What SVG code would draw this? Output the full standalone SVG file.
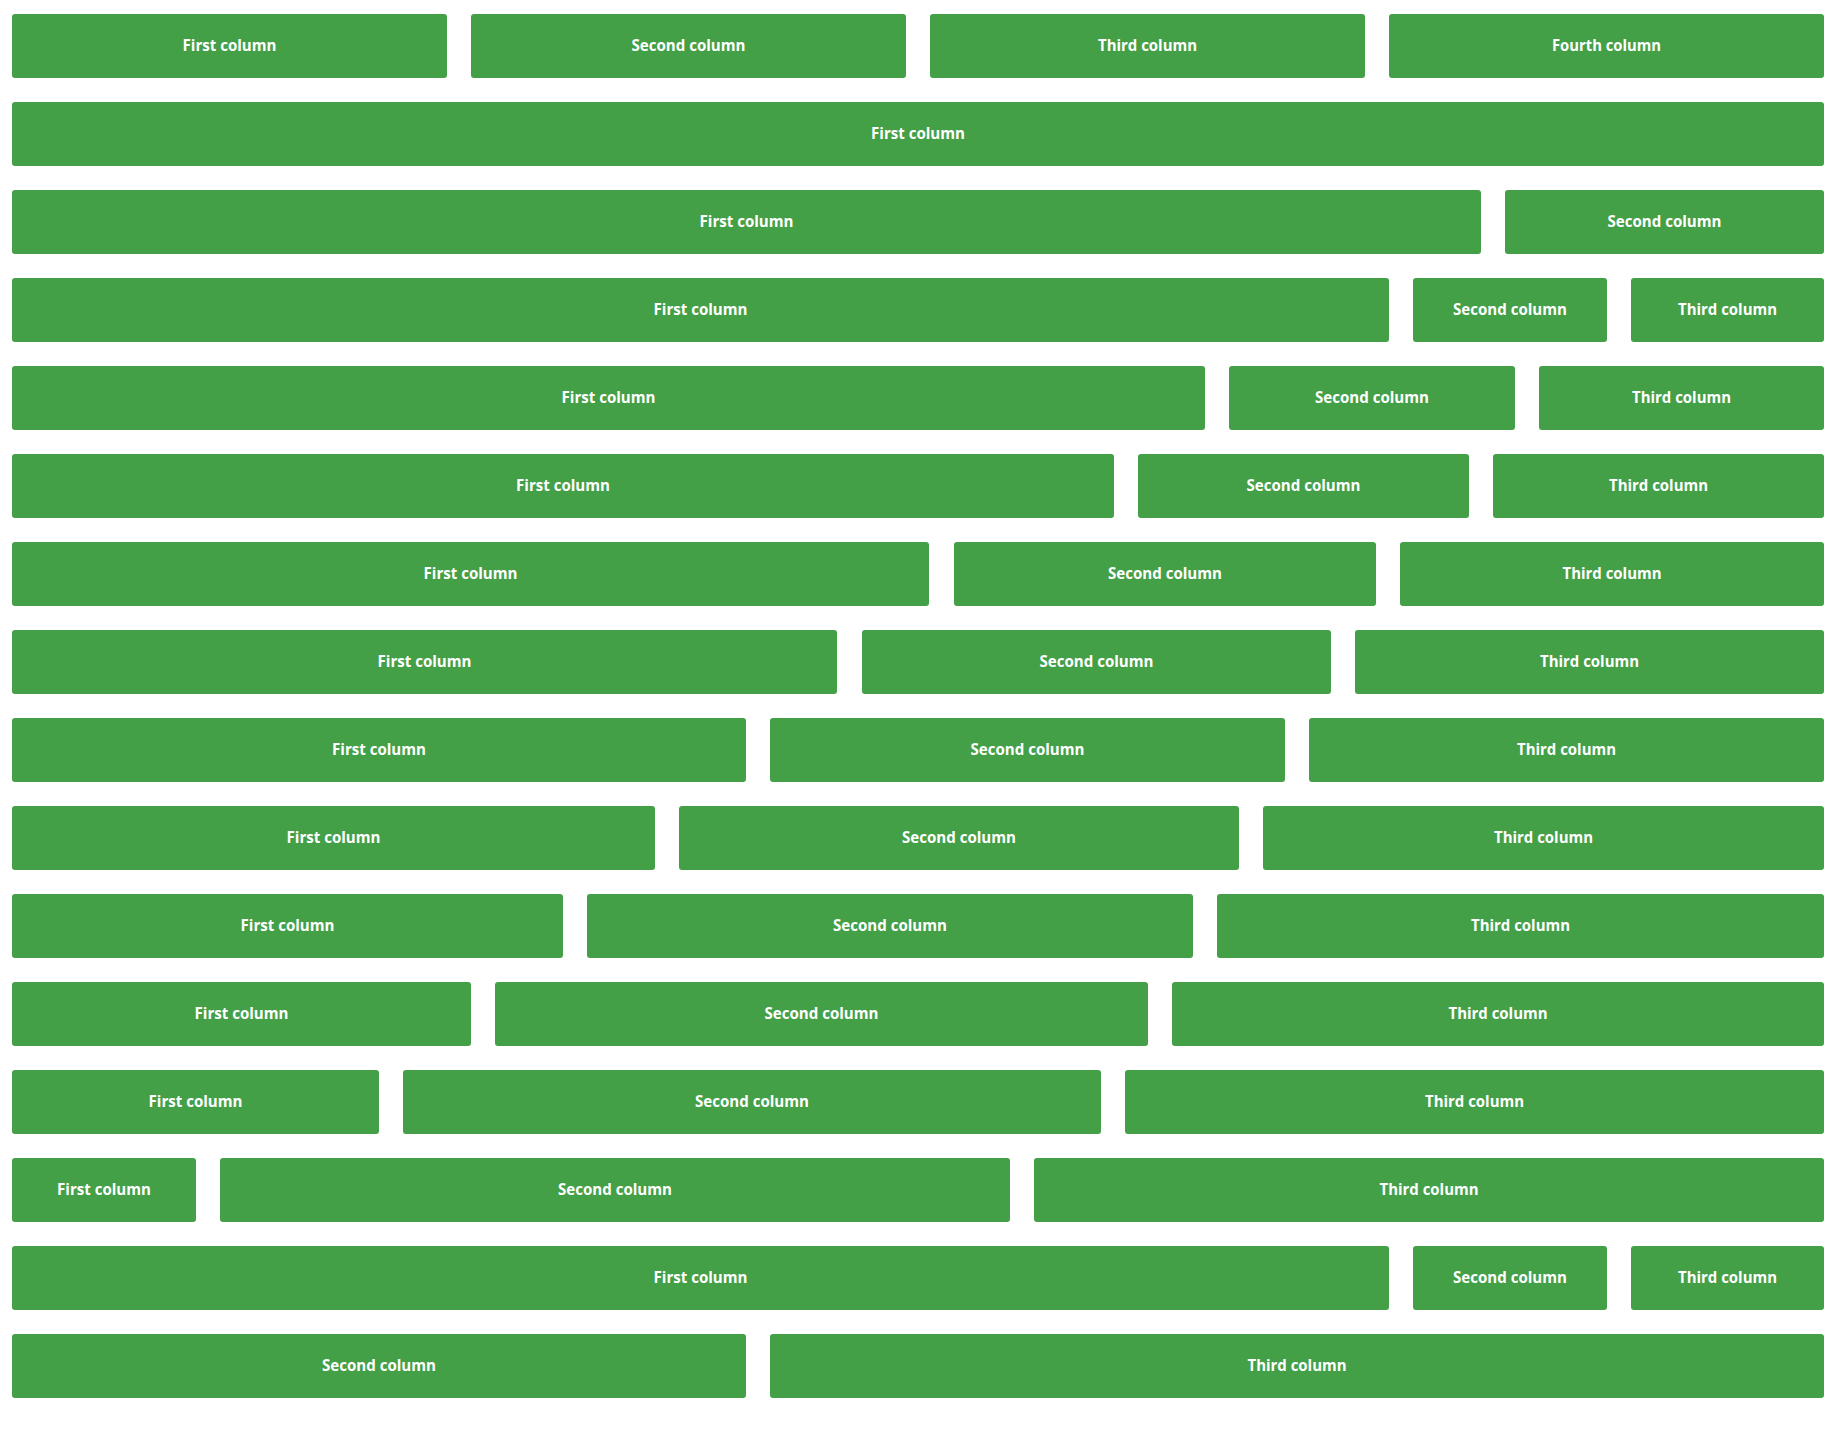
<svg xmlns="http://www.w3.org/2000/svg" width="1836" height="1432" viewBox="0 0 1836 1432">
<style>
.b{fill:#43A047}
.t{fill:#fff;font-family:"Open Sans","Noto Sans","Liberation Sans",sans-serif;font-weight:700;font-size:16px;text-anchor:middle}
</style>
<rect width="1836" height="1432" fill="#fff"/>
<g id="row1">
<g id="r1c1"><rect class="b" x="12" y="14" width="435" height="64" rx="3"/><text class="t" x="229.5" y="51" textLength="94" lengthAdjust="spacingAndGlyphs">First column</text></g>
<g id="r1c2"><rect class="b" x="471" y="14" width="435" height="64" rx="3"/><text class="t" x="688.5" y="51" textLength="114" lengthAdjust="spacingAndGlyphs">Second column</text></g>
<g id="r1c3"><rect class="b" x="930" y="14" width="435" height="64" rx="3"/><text class="t" x="1147.5" y="51" textLength="99" lengthAdjust="spacingAndGlyphs">Third column</text></g>
<g id="r1c4"><rect class="b" x="1389" y="14" width="435" height="64" rx="3"/><text class="t" x="1606.5" y="51" textLength="109" lengthAdjust="spacingAndGlyphs">Fourth column</text></g>
</g>
<g id="row2">
<g id="r2c1"><rect class="b" x="12" y="102" width="1812" height="64" rx="3"/><text class="t" x="918" y="139" textLength="94" lengthAdjust="spacingAndGlyphs">First column</text></g>
</g>
<g id="row3">
<g id="r3c1"><rect class="b" x="12" y="190" width="1469" height="64" rx="3"/><text class="t" x="746.5" y="227" textLength="94" lengthAdjust="spacingAndGlyphs">First column</text></g>
<g id="r3c2"><rect class="b" x="1505" y="190" width="319" height="64" rx="3"/><text class="t" x="1664.5" y="227" textLength="114" lengthAdjust="spacingAndGlyphs">Second column</text></g>
</g>
<g id="row4">
<g id="r4c1"><rect class="b" x="12" y="278" width="1377" height="64" rx="3"/><text class="t" x="700.5" y="315" textLength="94" lengthAdjust="spacingAndGlyphs">First column</text></g>
<g id="r4c2"><rect class="b" x="1413" y="278" width="194" height="64" rx="3"/><text class="t" x="1510" y="315" textLength="114" lengthAdjust="spacingAndGlyphs">Second column</text></g>
<g id="r4c3"><rect class="b" x="1631" y="278" width="193" height="64" rx="3"/><text class="t" x="1727.5" y="315" textLength="99" lengthAdjust="spacingAndGlyphs">Third column</text></g>
</g>
<g id="row5">
<g id="r5c1"><rect class="b" x="12" y="366" width="1193" height="64" rx="3"/><text class="t" x="608.5" y="403" textLength="94" lengthAdjust="spacingAndGlyphs">First column</text></g>
<g id="r5c2"><rect class="b" x="1229" y="366" width="286" height="64" rx="3"/><text class="t" x="1372" y="403" textLength="114" lengthAdjust="spacingAndGlyphs">Second column</text></g>
<g id="r5c3"><rect class="b" x="1539" y="366" width="285" height="64" rx="3"/><text class="t" x="1681.5" y="403" textLength="99" lengthAdjust="spacingAndGlyphs">Third column</text></g>
</g>
<g id="row6">
<g id="r6c1"><rect class="b" x="12" y="454" width="1102" height="64" rx="3"/><text class="t" x="563" y="491" textLength="94" lengthAdjust="spacingAndGlyphs">First column</text></g>
<g id="r6c2"><rect class="b" x="1138" y="454" width="331" height="64" rx="3"/><text class="t" x="1303.5" y="491" textLength="114" lengthAdjust="spacingAndGlyphs">Second column</text></g>
<g id="r6c3"><rect class="b" x="1493" y="454" width="331" height="64" rx="3"/><text class="t" x="1658.5" y="491" textLength="99" lengthAdjust="spacingAndGlyphs">Third column</text></g>
</g>
<g id="row7">
<g id="r7c1"><rect class="b" x="12" y="542" width="917" height="64" rx="3"/><text class="t" x="470.5" y="579" textLength="94" lengthAdjust="spacingAndGlyphs">First column</text></g>
<g id="r7c2"><rect class="b" x="954" y="542" width="422" height="64" rx="3"/><text class="t" x="1165" y="579" textLength="114" lengthAdjust="spacingAndGlyphs">Second column</text></g>
<g id="r7c3"><rect class="b" x="1400" y="542" width="424" height="64" rx="3"/><text class="t" x="1612" y="579" textLength="99" lengthAdjust="spacingAndGlyphs">Third column</text></g>
</g>
<g id="row8">
<g id="r8c1"><rect class="b" x="12" y="630" width="825" height="64" rx="3"/><text class="t" x="424.5" y="667" textLength="94" lengthAdjust="spacingAndGlyphs">First column</text></g>
<g id="r8c2"><rect class="b" x="862" y="630" width="469" height="64" rx="3"/><text class="t" x="1096.5" y="667" textLength="114" lengthAdjust="spacingAndGlyphs">Second column</text></g>
<g id="r8c3"><rect class="b" x="1355" y="630" width="469" height="64" rx="3"/><text class="t" x="1589.5" y="667" textLength="99" lengthAdjust="spacingAndGlyphs">Third column</text></g>
</g>
<g id="row9">
<g id="r9c1"><rect class="b" x="12" y="718" width="734" height="64" rx="3"/><text class="t" x="379" y="755" textLength="94" lengthAdjust="spacingAndGlyphs">First column</text></g>
<g id="r9c2"><rect class="b" x="770" y="718" width="515" height="64" rx="3"/><text class="t" x="1027.5" y="755" textLength="114" lengthAdjust="spacingAndGlyphs">Second column</text></g>
<g id="r9c3"><rect class="b" x="1309" y="718" width="515" height="64" rx="3"/><text class="t" x="1566.5" y="755" textLength="99" lengthAdjust="spacingAndGlyphs">Third column</text></g>
</g>
<g id="row10">
<g id="r10c1"><rect class="b" x="12" y="806" width="643" height="64" rx="3"/><text class="t" x="333.5" y="843" textLength="94" lengthAdjust="spacingAndGlyphs">First column</text></g>
<g id="r10c2"><rect class="b" x="679" y="806" width="560" height="64" rx="3"/><text class="t" x="959" y="843" textLength="114" lengthAdjust="spacingAndGlyphs">Second column</text></g>
<g id="r10c3"><rect class="b" x="1263" y="806" width="561" height="64" rx="3"/><text class="t" x="1543.5" y="843" textLength="99" lengthAdjust="spacingAndGlyphs">Third column</text></g>
</g>
<g id="row11">
<g id="r11c1"><rect class="b" x="12" y="894" width="551" height="64" rx="3"/><text class="t" x="287.5" y="931" textLength="94" lengthAdjust="spacingAndGlyphs">First column</text></g>
<g id="r11c2"><rect class="b" x="587" y="894" width="606" height="64" rx="3"/><text class="t" x="890" y="931" textLength="114" lengthAdjust="spacingAndGlyphs">Second column</text></g>
<g id="r11c3"><rect class="b" x="1217" y="894" width="607" height="64" rx="3"/><text class="t" x="1520.5" y="931" textLength="99" lengthAdjust="spacingAndGlyphs">Third column</text></g>
</g>
<g id="row12">
<g id="r12c1"><rect class="b" x="12" y="982" width="459" height="64" rx="3"/><text class="t" x="241.5" y="1019" textLength="94" lengthAdjust="spacingAndGlyphs">First column</text></g>
<g id="r12c2"><rect class="b" x="495" y="982" width="653" height="64" rx="3"/><text class="t" x="821.5" y="1019" textLength="114" lengthAdjust="spacingAndGlyphs">Second column</text></g>
<g id="r12c3"><rect class="b" x="1172" y="982" width="652" height="64" rx="3"/><text class="t" x="1498" y="1019" textLength="99" lengthAdjust="spacingAndGlyphs">Third column</text></g>
</g>
<g id="row13">
<g id="r13c1"><rect class="b" x="12" y="1070" width="367" height="64" rx="3"/><text class="t" x="195.5" y="1107" textLength="94" lengthAdjust="spacingAndGlyphs">First column</text></g>
<g id="r13c2"><rect class="b" x="403" y="1070" width="698" height="64" rx="3"/><text class="t" x="752" y="1107" textLength="114" lengthAdjust="spacingAndGlyphs">Second column</text></g>
<g id="r13c3"><rect class="b" x="1125" y="1070" width="699" height="64" rx="3"/><text class="t" x="1474.5" y="1107" textLength="99" lengthAdjust="spacingAndGlyphs">Third column</text></g>
</g>
<g id="row14">
<g id="r14c1"><rect class="b" x="12" y="1158" width="184" height="64" rx="3"/><text class="t" x="104" y="1195" textLength="94" lengthAdjust="spacingAndGlyphs">First column</text></g>
<g id="r14c2"><rect class="b" x="220" y="1158" width="790" height="64" rx="3"/><text class="t" x="615" y="1195" textLength="114" lengthAdjust="spacingAndGlyphs">Second column</text></g>
<g id="r14c3"><rect class="b" x="1034" y="1158" width="790" height="64" rx="3"/><text class="t" x="1429" y="1195" textLength="99" lengthAdjust="spacingAndGlyphs">Third column</text></g>
</g>
<g id="row15">
<g id="r15c1"><rect class="b" x="12" y="1246" width="1377" height="64" rx="3"/><text class="t" x="700.5" y="1283" textLength="94" lengthAdjust="spacingAndGlyphs">First column</text></g>
<g id="r15c2"><rect class="b" x="1413" y="1246" width="194" height="64" rx="3"/><text class="t" x="1510" y="1283" textLength="114" lengthAdjust="spacingAndGlyphs">Second column</text></g>
<g id="r15c3"><rect class="b" x="1631" y="1246" width="193" height="64" rx="3"/><text class="t" x="1727.5" y="1283" textLength="99" lengthAdjust="spacingAndGlyphs">Third column</text></g>
</g>
<g id="row16">
<g id="r16c2"><rect class="b" x="12" y="1334" width="734" height="64" rx="3"/><text class="t" x="379" y="1371" textLength="114" lengthAdjust="spacingAndGlyphs">Second column</text></g>
<g id="r16c3"><rect class="b" x="770" y="1334" width="1054" height="64" rx="3"/><text class="t" x="1297" y="1371" textLength="99" lengthAdjust="spacingAndGlyphs">Third column</text></g>
</g>
<g id="connectors"/>
</svg>
